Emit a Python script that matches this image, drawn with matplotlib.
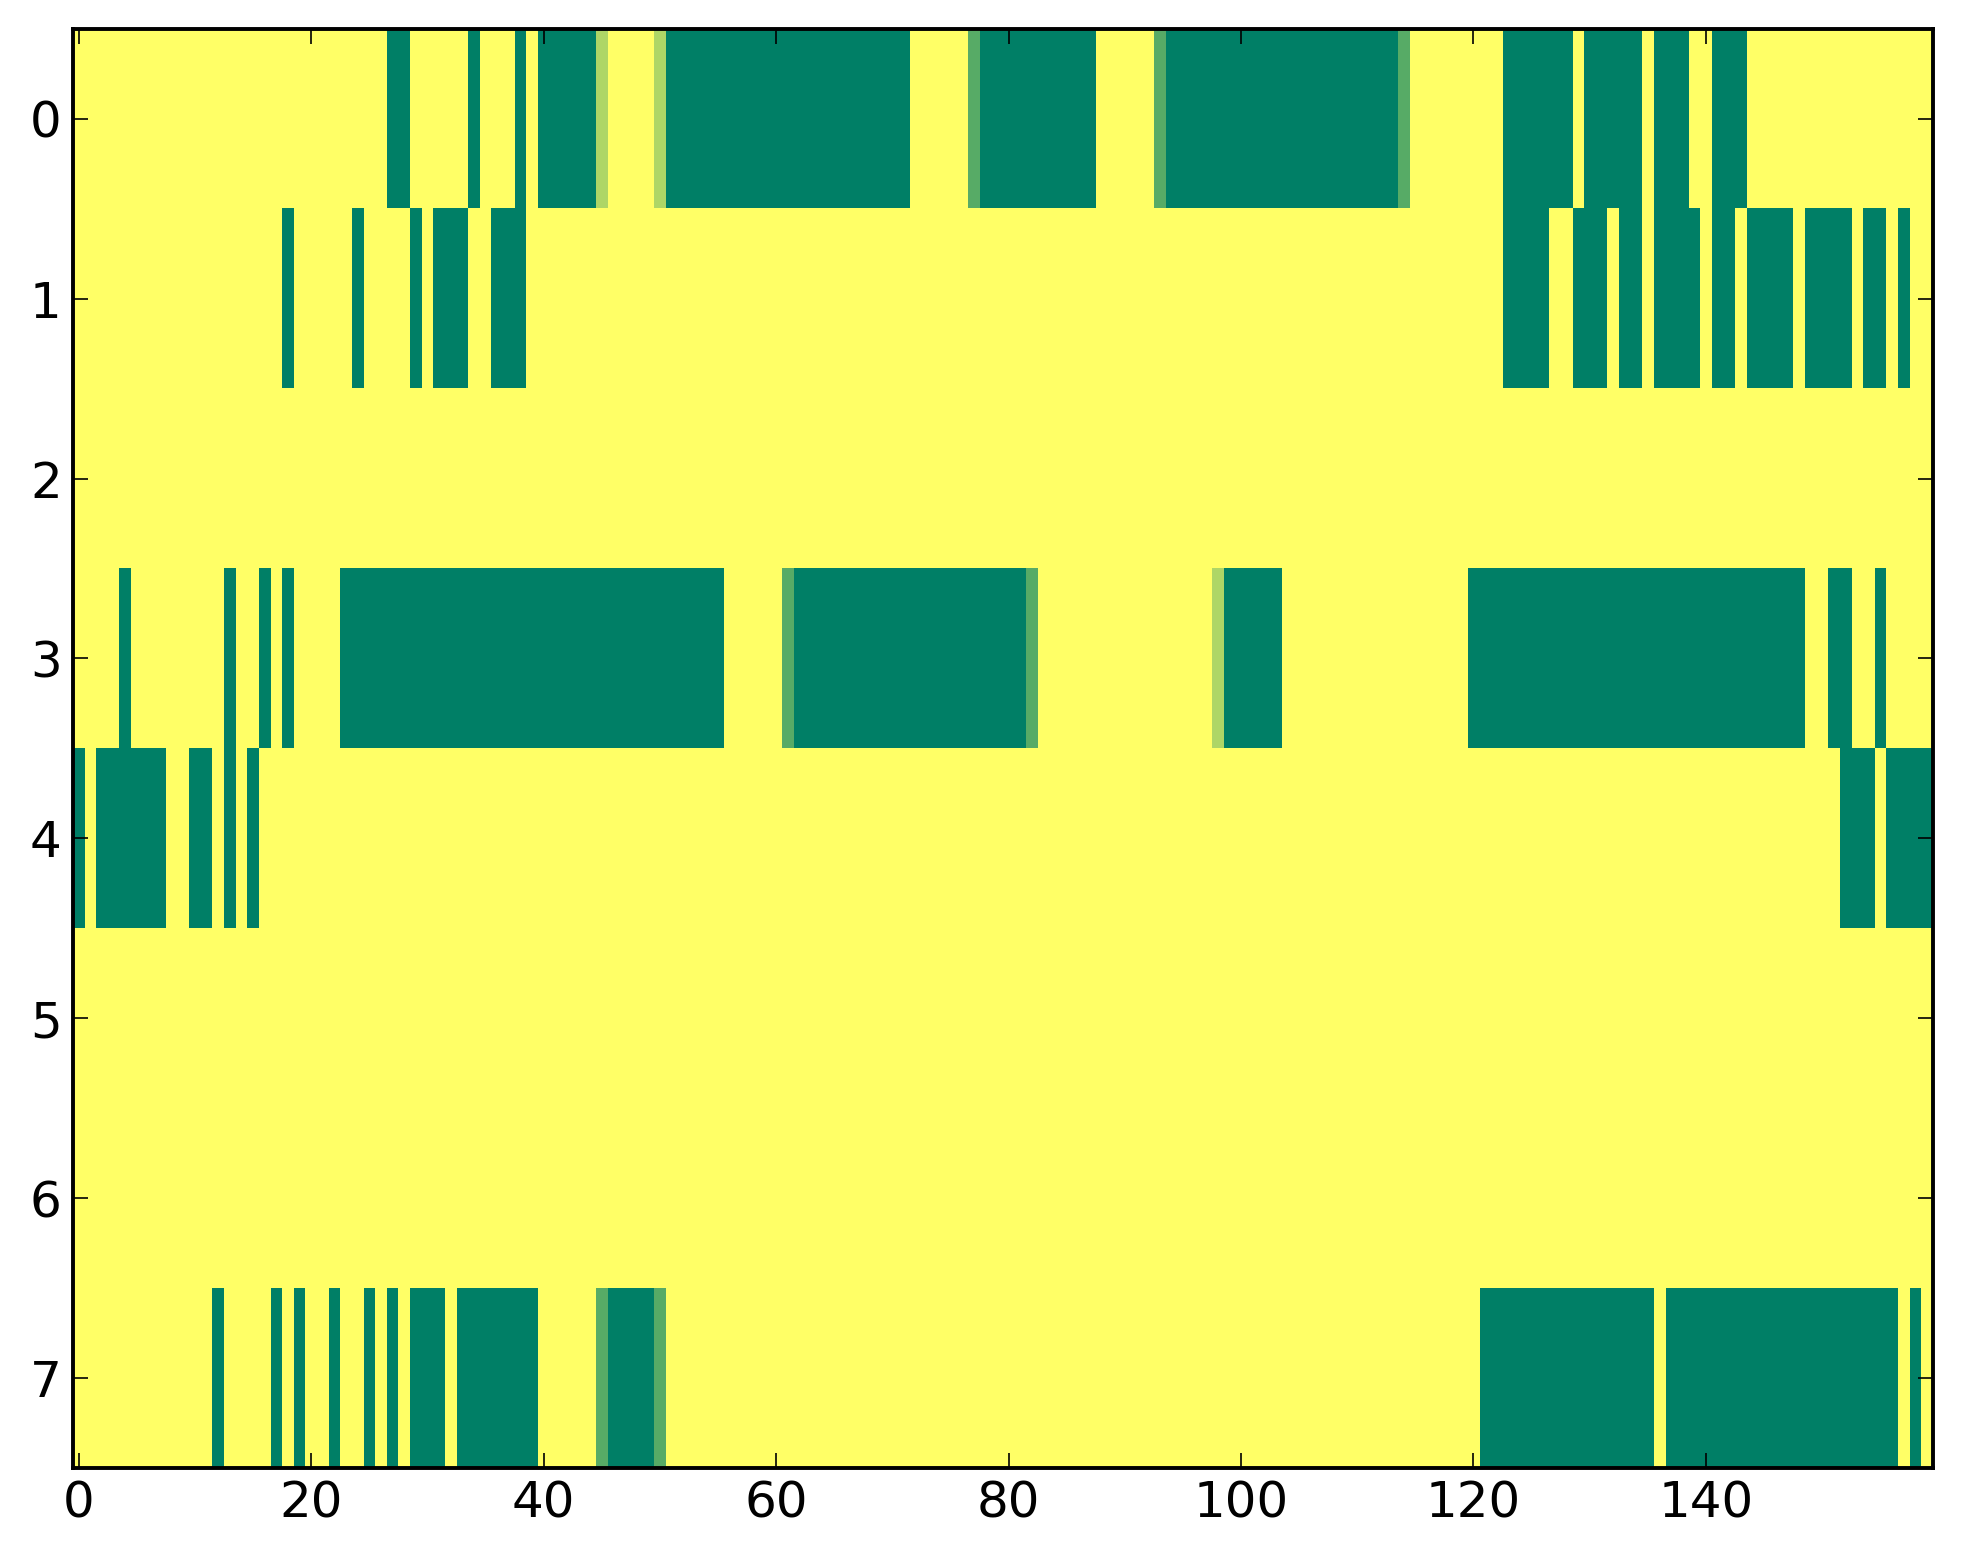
import numpy as np
import matplotlib
matplotlib.use("Agg")
import matplotlib.pyplot as plt

n_rows = 8
n_cols = 160

# Green (value 0) spans per row, inclusive column ranges
green_row0 = [(27, 28), (34, 34), (38, 38), (40, 44), (51, 71), (78, 87), (94, 113),
              (123, 128), (130, 134), (136, 138), (141, 143)]
green_row1 = [(18, 18), (24, 24), (29, 29), (31, 33), (36, 38), (123, 126), (129, 131),
              (133, 134), (136, 139), (141, 142), (144, 147), (149, 152), (154, 155), (157, 157)]
green_row2 = []
green_row3 = [(4, 4), (13, 13), (16, 16), (18, 18), (23, 55), (62, 81), (99, 103),
              (120, 148), (151, 152), (155, 155)]
green_row4 = [(0, 0), (2, 7), (10, 11), (13, 13), (15, 15), (152, 154), (156, 159)]
green_row5 = []
green_row6 = []
green_row7 = [(12, 12), (17, 17), (19, 19), (22, 22), (25, 25), (27, 27), (29, 31),
              (33, 39), (46, 49), (121, 135), (137, 156), (158, 158)]

# Intermediate-valued cells: (row, col, value)
mid_cells = [(0, 45, 0.68), (0, 50, 0.68), (0, 77, 0.34), (0, 93, 0.34), (0, 114, 0.34),
             (3, 61, 0.34), (3, 82, 0.34), (3, 98, 0.68),
             (7, 45, 0.34), (7, 50, 0.34)]

green_rows = [green_row0, green_row1, green_row2, green_row3,
              green_row4, green_row5, green_row6, green_row7]

data = np.ones((n_rows, n_cols))
for r, spans in enumerate(green_rows):
    for a, b in spans:
        data[r, a:b + 1] = 0.0
for r, c, v in mid_cells:
    data[r, c] = v

x_ticks = [0, 20, 40, 60, 80, 100, 120, 140]
y_ticks = [0, 1, 2, 3, 4, 5, 6, 7]

plt.rcParams['font.family'] = ['DejaVu Sans']

fig = plt.figure(figsize=(1963 / 200, 1564 / 200), dpi=200)
ax = fig.add_axes([0.0371, 0.0612, 0.9474, 0.9205])
ax.imshow(data, cmap='summer', vmin=0, vmax=1, aspect='auto', interpolation='nearest')
ax.set_xticks(x_ticks)
ax.set_yticks(y_ticks)
ax.tick_params(direction='in', top=True, right=True, length=5.5, width=0.6,
               labelsize=18, pad=4)
for s in ax.spines.values():
    s.set_linewidth(1.4)

fig.savefig("out.png", dpi=200)
